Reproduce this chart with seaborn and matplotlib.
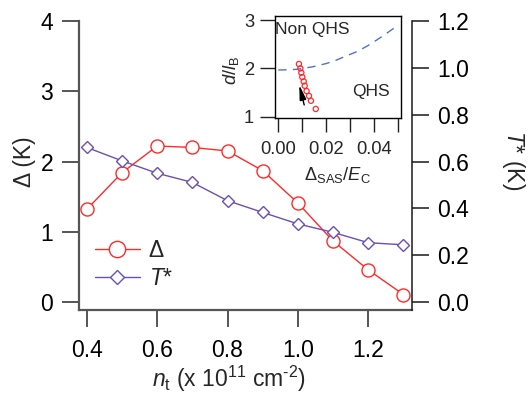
import numpy as np
import pandas as pd
import matplotlib
matplotlib.use("Agg")
import matplotlib.pyplot as plt
import seaborn as sns

# Main panel: activation gap and characteristic temperature vs density
n_t = [0.4, 0.5, 0.6, 0.7, 0.8, 0.9, 1.0, 1.1, 1.2, 1.3]
gap_K = [1.32, 1.84, 2.22, 2.20, 2.15, 1.87, 1.41, 0.87, 0.46, 0.11]
tstar_K = [0.660, 0.603, 0.550, 0.511, 0.433, 0.383, 0.334, 0.298, 0.254, 0.245]

# Inset: phase diagram d/l_B vs Delta_SAS/E_C
inset_x = [0.0086, 0.0092, 0.0096, 0.0100, 0.0106, 0.0110, 0.0118, 0.0128, 0.0136, 0.0156]
inset_y = [2.09, 2.00, 1.91, 1.82, 1.73, 1.64, 1.53, 1.43, 1.33, 1.16]
boundary_x = [0.0, 0.0035, 0.0077, 0.0146, 0.0200, 0.0243, 0.0280, 0.0327, 0.0370, 0.0410, 0.0450, 0.0500]
boundary_y = [1.966, 1.970, 1.980, 2.035, 2.100, 2.173, 2.250, 2.345, 2.460, 2.586, 2.720, 2.895]

x_ticks = [0.4, 0.6, 0.8, 1.0, 1.2]
gap_ticks = [0, 1, 2, 3, 4]
tstar_ticks = [0.0, 0.2, 0.4, 0.6, 0.8, 1.0, 1.2]
inset_xticks = [0.0, 0.01, 0.02, 0.03, 0.04, 0.05]
inset_yticks = [1, 2, 3]

sns.set_theme(style="ticks")
plt.rcParams["font.family"] = ["Liberation Sans", "DejaVu Sans"]
plt.rcParams["mathtext.fontset"] = "custom"
plt.rcParams["mathtext.rm"] = "Liberation Sans"
plt.rcParams["mathtext.it"] = "Liberation Sans:italic"
plt.rcParams["mathtext.sf"] = "Liberation Sans"

RED = "#ff2a2a"
PURPLE = "#6a4fb5"
BLUE = "#4f72c8"
FS = 16.5
FS_IN = 13.2

W, H = 531, 395
fig = plt.figure(figsize=(W / 100, H / 100), dpi=100)
fig.patch.set_facecolor("white")

L, R, T, B = 79, 411.7, 20.7, 310
ax = fig.add_axes([L / W, 1 - B / H, (R - L) / W, (B - T) / H])
ax2 = ax.twinx()
ax.set_facecolor("white")

df = pd.DataFrame({"n_t": n_t, "gap": gap_K, "tstar": tstar_K})

sns.lineplot(data=df, x="n_t", y="gap", ax=ax, color=RED, linewidth=1.0,
             marker="o", markersize=9.4, markerfacecolor="white",
             markeredgecolor=RED, markeredgewidth=1.0, label="Δ")
sns.lineplot(data=df, x="n_t", y="tstar", ax=ax2, color=PURPLE, linewidth=1.0,
             marker="D", markersize=5.7, markerfacecolor="white",
             markeredgecolor=PURPLE, markeredgewidth=1.0, label="$T$*")

ax.set_xlim(0.378, 1.3233)
ax.set_ylim(-0.109, 4.0)
ax2.set_ylim(-0.0328, 1.2)

ax.set_xticks(x_ticks)
ax.set_xticklabels([f"{v:.1f}" for v in x_ticks])
ax.set_yticks(gap_ticks)
ax.set_yticklabels([str(v) for v in gap_ticks])
ax2.set_yticks(tstar_ticks)
ax2.set_yticklabels([f"{v:.1f}" for v in tstar_ticks])
ax.set_xlabel("")
ax.set_ylabel("")
ax2.set_ylabel("")

for a in (ax, ax2):
    a.spines["top"].set_visible(False)
ax.spines["right"].set_visible(False)
ax2.spines["left"].set_visible(False)
ax2.spines["bottom"].set_visible(False)
for s in ("left", "bottom"):
    ax.spines[s].set_color("#555555")
    ax.spines[s].set_linewidth(1.6)
ax2.spines["right"].set_color("#1a1a1a")
ax2.spines["right"].set_linewidth(1.1)

ax.tick_params(axis="y", direction="out", length=12.2, width=1.4, color="#555555",
               pad=6.5, labelsize=FS, labelcolor="black")
ax.tick_params(axis="x", direction="out", length=12.2, width=1.4, color="#555555",
               pad=8.5, labelsize=FS, labelcolor="black")
ax2.tick_params(axis="y", direction="out", length=12.2, width=1.1, color="#1a1a1a",
                pad=6.3, labelsize=FS, labelcolor="black")

# Axis titles
fig.text(25 / W, 1 - 162 / H, "Δ (K)", rotation=90, ha="center", va="center", fontsize=FS)
fig.text(513 / W, 1 - 160 / H, "$T$* (K)", rotation=270, ha="center", va="center", fontsize=FS)
fig.text(228.5 / W, 1 - 379 / H,
         r"$n_{\rm t}$ (x 10$^{\rm 11}$ cm$^{\text{-2}}$)",
         ha="center", va="center", fontsize=FS)

# Combined legend
h1, l1 = ax.get_legend_handles_labels()
h2, l2 = ax2.get_legend_handles_labels()
if ax.get_legend() is not None:
    ax.get_legend().remove()
if ax2.get_legend() is not None:
    ax2.get_legend().remove()
ax2.legend(h1 + h2, l1 + l2, loc="center left",
           bbox_to_anchor=(95 / W, 1 - 264.5 / H), bbox_transform=fig.transFigure,
           frameon=False, fontsize=FS, handlelength=1.95, handletextpad=0.4,
           labelspacing=0.25, borderpad=0, borderaxespad=0, markerscale=1.25)

# Inset
iL, iR, iT, iB = 275, 400.7, 16, 118.3
axi = fig.add_axes([iL / W, 1 - iB / H, (iR - iL) / W, (iB - iT) / H])
axi.set_facecolor("white")
bdf = pd.DataFrame({"x": boundary_x, "y": boundary_y})
sns.lineplot(data=bdf, x="x", y="y", ax=axi, color=BLUE, linewidth=1.0,
             linestyle=(0, (6, 4.5)), sort=False)
idf = pd.DataFrame({"x": inset_x, "y": inset_y})
sns.scatterplot(data=idf, x="x", y="y", ax=axi, marker="o", s=14,
                facecolor="none", edgecolor=RED, linewidth=0.9, zorder=3)
axi.annotate("", xy=(0.00875, 1.656), xytext=(0.0108, 1.242),
             arrowprops=dict(arrowstyle="-|>,head_length=0.8,head_width=0.18",
                             color="black", lw=1.0, mutation_scale=11,
                             shrinkA=0, shrinkB=0))
axi.set_xlim(-0.00137, 0.051)
axi.set_ylim(0.967, 3.083)
axi.set_xticks(inset_xticks)
axi.set_xticklabels([f"{v:.2f}" if i % 2 == 0 else "" for i, v in enumerate(inset_xticks)])
axi.set_yticks(inset_yticks)
axi.set_yticklabels([str(v) for v in inset_yticks])
axi.set_xlabel("")
axi.set_ylabel("")
for s in axi.spines.values():
    s.set_visible(True)
    s.set_color("black")
    s.set_linewidth(1.0)
axi.tick_params(axis="x", direction="out", length=10, width=1.0, color="#222222",
                pad=6, labelsize=FS_IN)
axi.tick_params(axis="y", direction="out", length=10.5, width=1.0, color="#222222",
                pad=4.5, labelsize=FS_IN)
axi.text(0.0, 0.87, "Non QHS", transform=axi.transAxes, fontsize=12.5,
         ha="left", va="center")
axi.text(0.615, 0.26, "QHS", transform=axi.transAxes, fontsize=12.5,
         ha="left", va="center")
fig.text(337.5 / W, 1 - 175 / H, r"$\Delta_{\rm SAS}/E_{\rm C}$", ha="center",
         va="center", fontsize=FS_IN)
fig.text(231 / W, 1 - 70 / H, r"$d/l_{\rm B}$", rotation=90, ha="center",
         va="center", fontsize=FS_IN)

fig.savefig("out.png", dpi=100, facecolor="white")
